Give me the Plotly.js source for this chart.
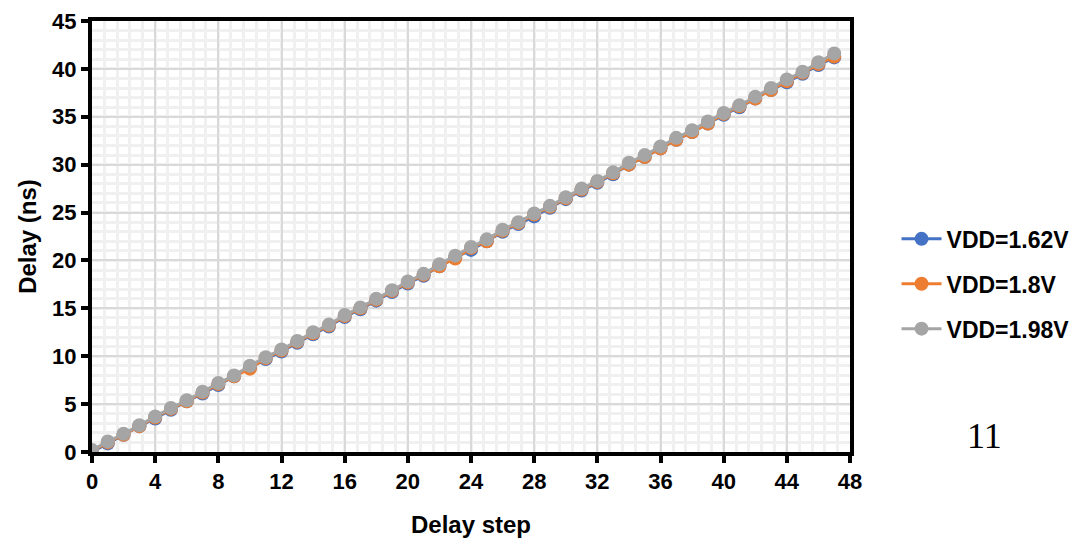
<!DOCTYPE html>
<html>
<head>
<meta charset="utf-8">
<script src="https://cdn.plot.ly/plotly-3.0.1.min.js"></script>
<style>html,body{margin:0;padding:0;background:#fff;}#chart{width:1086px;height:538px;}</style>
</head>
<body>
<div id="chart"></div>
<script>
const steps = Array.from({length: 48}, (_, i) => i);
const vdd198 = [0.2,1.1,1.9,2.8,3.7,4.6,5.4,6.3,7.2,8.0,9.0,9.9,10.7,11.6,12.5,13.3,14.3,15.1,16.0,16.9,17.8,18.6,19.6,20.5,21.4,22.2,23.2,24.0,24.9,25.7,26.6,27.5,28.3,29.2,30.2,31.0,31.9,32.8,33.6,34.5,35.4,36.2,37.1,38.0,38.9,39.7,40.7,41.6];
const vdd18  = [0.1,1.0,1.8,2.7,3.6,4.5,5.3,6.2,7.1,7.9,8.7,9.8,10.6,11.5,12.4,13.2,14.2,15.0,15.9,16.8,17.7,18.5,19.4,20.2,21.3,22.0,23.1,23.9,24.8,25.6,26.5,27.4,28.2,29.1,30.0,30.8,31.7,32.6,33.4,34.3,35.3,36.1,36.9,37.8,38.7,39.6,40.5,41.3];
const vdd162 = [0.0,0.9,1.8,2.7,3.5,4.4,5.3,6.1,7.0,7.9,8.8,9.7,10.5,11.4,12.3,13.1,14.1,14.9,15.8,16.7,17.6,18.4,19.4,20.3,21.1,22.0,23.0,23.8,24.6,25.5,26.4,27.3,28.1,29.0,30.0,30.8,31.7,32.6,33.4,34.3,35.2,36.0,36.9,37.8,38.6,39.5,40.4,41.2];
const seriesNames = ['VDD=1.62V','VDD=1.8V','VDD=1.98V'];
const seriesColors = ['#4472c4','#ed7d31','#a5a5a5'];
const xTicks = [0,4,8,12,16,20,24,28,32,36,40,44,48];
const yTicks = [0,5,10,15,20,25,30,35,40,45];

const ys = [vdd162, vdd18, vdd198];
const traces = ys.map((y, i) => ({
  x: steps, y: y, type: 'scatter', mode: 'lines+markers', name: seriesNames[i],
  legendgroup: 'g' + i,
  line: {color: seriesColors[i], width: 3},
  marker: {color: seriesColors[i], size: 14}
}));

const fam = 'Arial, Liberation Sans, sans-serif';
const tickFont = {family: fam, size: 22, color: '#000', weight: 'bold'};
const layout = {
  width: 1086, height: 538,
  margin: {l: 92, r: 235, t: 21, b: 86},
  paper_bgcolor: '#fff', plot_bgcolor: '#fff',
  showlegend: true,
  legend: {x: 1.06, y: 0.39, xanchor: 'left', yanchor: 'middle', font: {family: fam, size: 23, color: '#000', weight: 'bold'}, tracegroupgap: 12, itemwidth: 40},
  xaxis: {
    range: [0, 48], tickvals: xTicks, ticktext: xTicks.map(String),
    showline: true, mirror: true, linecolor: '#000', linewidth: 4,
    ticks: 'outside', ticklen: 7, tickwidth: 4, tickcolor: '#000',
    showgrid: true, gridcolor: '#d9d9d9', gridwidth: 2, zeroline: false,
    minor: {dtick: 0.8, tick0: 0, showgrid: true, gridcolor: '#f0f0f0', gridwidth: 3, ticks: ''},
    tickfont: tickFont,
    title: {text: 'Delay step', font: {family: fam, size: 24, color: '#000', weight: 'bold'}, standoff: 24}
  },
  yaxis: {
    range: [0, 45], tickvals: yTicks, ticktext: yTicks.map(String),
    showline: true, mirror: true, linecolor: '#000', linewidth: 4,
    ticks: 'outside', ticklen: 7, tickwidth: 4, tickcolor: '#000',
    showgrid: true, gridcolor: '#d9d9d9', gridwidth: 2, zeroline: false,
    minor: {dtick: 1, tick0: 0, showgrid: true, gridcolor: '#f0f0f0', gridwidth: 3, ticks: ''},
    tickfont: tickFont,
    title: {text: 'Delay (ns)', font: {family: fam, size: 24, color: '#000', weight: 'bold'}, standoff: 10}
  },
  annotations: [{
    text: '11', xref: 'paper', yref: 'paper', x: 1.177, y: 0.037, xanchor: 'center', yanchor: 'middle',
    showarrow: false, font: {family: 'Liberation Serif, Times New Roman, serif', size: 36, color: '#000'}
  }]
};
Plotly.newPlot('chart', traces, layout, {displayModeBar: false, staticPlot: true});
</script>
</body>
</html>
